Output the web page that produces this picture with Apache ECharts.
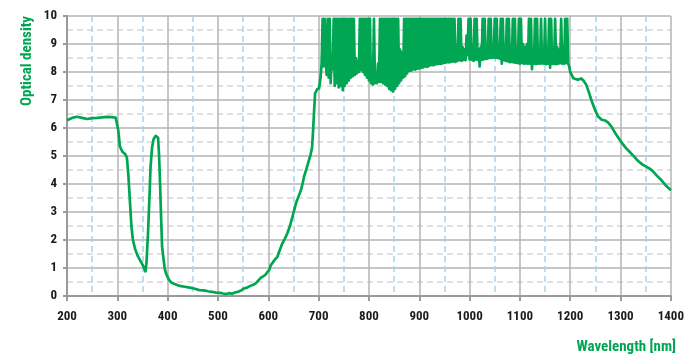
<!DOCTYPE html>
<html>
<head>
<meta charset="utf-8">
<script src="https://cdn.jsdelivr.net/npm/echarts@6/dist/echarts.min.js"></script>
<style>
html,body{margin:0;padding:0;background:#fff;overflow:hidden}
#chart{width:687px;height:356px}
</style>
</head>
<body>
<div id="chart"></div>
<script>
// Wavelength tick labels (nm) and optical density ticks
const xTicks = [200, 300, 400, 500, 600, 700, 800, 900, 1000, 1100, 1200, 1300, 1400];
const yTicks = [0, 1, 2, 3, 4, 5, 6, 7, 8, 9, 10];

// Smooth part below ~708 nm: [wavelength, OD]
const leftCurve = [[200,6.28],[210,6.36],[220,6.4],[230,6.36],[240,6.32],[250,6.35],[260,6.36],[270,6.38],[280,6.4],[290,6.39],[297,6.36],[300,6.3],[302,5.9],[305,5.35],[310,5.15],[315,5.08],[319,4.95],[322,4.3],[325,3.4],[328,2.5],[331,2.0],[335,1.7],[340,1.45],[345,1.28],[350,1.12],[353,1.05],[356,0.88],[358,1.2],[361,2.25],[364,3.6],[366,4.6],[369,5.3],[372,5.6],[376,5.72],[379,5.75],[381,5.65],[383,5.0],[385,4.0],[387,2.8],[389,1.75],[390,1.6],[392,1.55],[394,1.0],[396,0.85],[398,0.75],[402,0.6],[407,0.48],[415,0.42],[424,0.36],[434,0.33],[444,0.3],[454,0.26],[463,0.21],[472,0.2],[480,0.17],[488,0.15],[496,0.12],[505,0.11],[510,0.09],[516,0.07],[522,0.1],[528,0.08],[533,0.12],[540,0.15],[546,0.2],[552,0.27],[558,0.3],[564,0.36],[570,0.4],[575,0.45],[580,0.55],[585,0.65],[589,0.69],[594,0.75],[598,0.85],[602,0.93],[605,1.1],[608,1.17],[613,1.3],[618,1.4],[623,1.65],[628,1.88],[633,2.05],[638,2.24],[643,2.5],[648,2.83],[652,3.1],[655,3.31],[660,3.55],[665,3.79],[668,4.0],[671,4.26],[676,4.55],[681,4.86],[684,5.05],[687,5.3],[689,5.9],[691,6.6],[693,7.24],[697,7.38],[701,7.42],[704,7.83],[706,8.3]];

// Noisy saturated region, sampled every 2 nm from 708 nm to 1196 nm
const noisyStart = 708;
const noisyStep = 2;
const noisyOD = [
9.9,8.2,9.9,8.5,7.9,9.9,7.8,9.9,7.6,8.6,
8.1,9.9,7.5,9.9,7.6,9.9,7.45,9.9,7.5,9.9,
7.35,9.9,7.5,9.9,7.6,9.9,7.7,9.9,7.8,9.9,
7.85,9.9,7.9,8.5,7.95,8.4,8.0,9.9,8.07,9.9,
8.0,9.9,7.9,9.9,7.8,9.9,7.7,9.9,7.6,7.9,
7.55,9.9,7.6,8.0,7.6,8.3,7.65,9.9,7.65,9.9,
7.6,9.9,7.55,9.9,7.5,9.9,7.4,9.9,7.35,9.9,
7.3,9.9,7.4,9.9,7.5,9.9,7.6,8.8,7.7,8.7,
7.8,9.9,7.85,9.9,7.95,9.9,8.05,9.9,8.05,9.9,
8.1,9.9,8.08,9.9,8.12,9.9,8.13,9.9,8.15,9.9,
8.16,9.9,8.2,9.9,8.18,9.9,8.22,9.9,8.25,9.9,
8.24,9.9,8.27,9.9,8.28,9.9,8.3,9.9,8.29,9.9,
8.32,9.9,8.33,9.9,8.35,9.9,8.34,9.9,8.37,9.9,
8.38,9.9,8.36,8.9,8.4,9.9,8.42,9.9,8.4,8.9,
8.43,8.8,8.42,9.3,8.6,9.9,8.45,9.9,8.44,8.9,
8.4,9.9,8.45,9.9,8.43,8.8,8.2,8.9,8.43,9.9,
8.45,9.9,8.47,8.9,8.48,9.9,8.5,9.9,8.5,8.9,
8.52,9.9,8.5,9.9,8.5,8.7,8.48,9.9,8.3,9.9,
8.42,8.8,8.4,9.9,8.38,9.9,8.35,8.7,8.36,9.9,
8.34,9.9,8.33,8.8,8.32,9.9,8.3,9.9,8.32,9.0,
8.3,8.9,8.31,9.0,8.3,9.9,8.3,9.9,8.1,8.8,
8.3,9.9,8.29,9.9,8.3,8.7,8.3,9.9,8.31,8.8,
8.3,9.9,8.28,8.7,8.3,9.9,8.15,9.9,8.29,8.8,
8.3,9.9,8.28,8.9,8.3,8.8,8.32,9.9,8.3,8.9,
8.3,9.9,8.32,9.9,8.3
];

// Smooth part above ~1196 nm: [wavelength, OD]
const rightCurve = [[1198,8.2],[1200,8.0],[1203,7.9],[1206,7.78],[1209,7.71],[1215,7.72],[1222,7.77],[1227,7.68],[1232,7.54],[1237,7.28],[1242,7.0],[1248,6.7],[1255,6.42],[1262,6.3],[1269,6.27],[1275,6.2],[1282,6.05],[1290,5.8],[1301,5.51],[1310,5.3],[1318,5.15],[1327,4.98],[1335,4.82],[1343,4.7],[1351,4.62],[1358,4.55],[1364,4.46],[1372,4.3],[1381,4.14],[1390,3.95],[1400,3.78]];

const data = leftCurve
  .concat(noisyOD.map((v, i) => [noisyStart + i * noisyStep, v]))
  .concat(rightCurve);

const GREEN = '#00a651';
const FONT = '"Roboto Condensed", "Open Sans", sans-serif';

const chart = echarts.init(document.getElementById('chart'), null, {renderer: 'canvas', devicePixelRatio: 1});
chart.setOption({
  animation: false,
  backgroundColor: '#fff',
  grid: {left: 67, right: 14, top: 16, bottom: 60, containLabel: false},
  xAxis: {
    type: 'value',
    min: xTicks[0], max: xTicks[xTicks.length - 1], interval: 100,
    axisLine: {show: true, onZero: false, lineStyle: {color: '#9a9a9a', width: 2}},
    axisTick: {show: true, length: 5, lineStyle: {color: '#9a9a9a', width: 2}},
    axisLabel: {color: '#1a1a1a', fontFamily: FONT, fontWeight: 'bold', fontSize: 13, margin: 14,
                formatter: v => String(v)},
    splitLine: {show: true, lineStyle: {color: '#b4b4b4', width: 1.5}},
    minorTick: {show: false, splitNumber: 2},
    minorSplitLine: {show: true, lineStyle: {color: '#a9d1ee', width: 1.5, type: [6, 4]}}
  },
  yAxis: {
    type: 'value',
    min: yTicks[0], max: yTicks[yTicks.length - 1], interval: 1,
    axisLine: {show: true, lineStyle: {color: '#9a9a9a', width: 2}},
    axisTick: {show: true, length: 4, lineStyle: {color: '#9a9a9a', width: 2}},
    axisLabel: {color: '#1a1a1a', fontFamily: FONT, fontWeight: 'bold', fontSize: 13, margin: 10},
    splitLine: {show: true, lineStyle: {color: '#b4b4b4', width: 1.5}},
    minorTick: {show: false, splitNumber: 2},
    minorSplitLine: {show: true, lineStyle: {color: '#d6d6d6', width: 1.5, type: [6, 4]}}
  },
  graphic: [
    {type: 'text', x: 27, y: 61, rotation: Math.PI / 2,
     style: {text: 'Optical density', fill: GREEN, font: 'bold 15px ' + FONT, textAlign: 'center', textVerticalAlign: 'middle'}},
    {type: 'text', x: 676, y: 347,
     style: {text: 'Wavelength [nm]', fill: GREEN, font: 'bold 15px ' + FONT, textAlign: 'right', textVerticalAlign: 'middle'}}
  ],
  series: [{
    type: 'line',
    data: data,
    showSymbol: false,
    symbol: 'none',
    smooth: false,
    clip: true,
    lineStyle: {color: GREEN, width: 2.7, join: 'round'},
    z: 5
  }]
});
</script>
</body>
</html>
